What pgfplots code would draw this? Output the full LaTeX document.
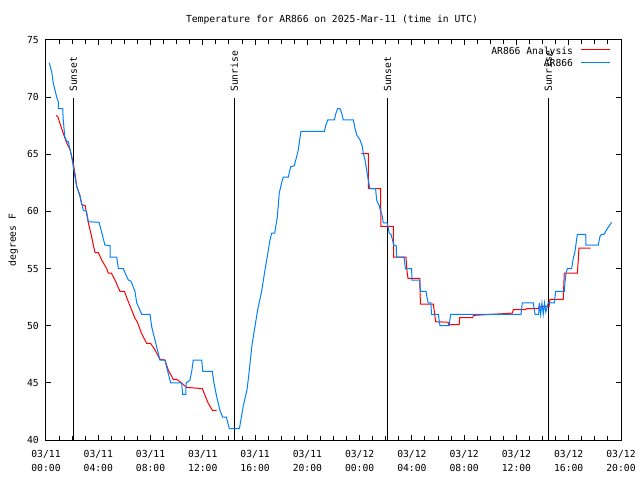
\documentclass[border=0pt]{standalone}
\usepackage{fontspec}
\setmainfont{DejaVu Sans Mono}
\usepackage{pgfplots}
\pgfplotsset{compat=1.18}
\definecolor{anred}{RGB}{255,0,0}
\definecolor{obsblue}{RGB}{0,128,255}
\newcommand\fsz{\fontsize{9.7}{14.5}\selectfont}
\begin{document}
\begin{tikzpicture}
\path[use as bounding box] (-46pt,-40pt) rectangle (594pt,440pt);
\begin{axis}[
  scale only axis, width=575pt, height=400pt,
  xmin=0, xmax=44, ymin=40, ymax=75,
  xtick={0,4,...,44},
  xticklabels={{03/11\\00:00},{03/11\\04:00},{03/11\\08:00},{03/11\\12:00},
    {03/11\\16:00},{03/11\\20:00},{03/12\\00:00},{03/12\\04:00},
    {03/12\\08:00},{03/12\\12:00},{03/12\\16:00},{03/12\\20:00}},
  minor xtick={0,1,...,44},
  ytick={40,45,...,75},
  major tick length=5pt, minor tick length=4pt,
  tick style={black, line width=1pt},
  axis line style={line width=1pt},
  every tick label/.append style={font=\fsz},
  /pgf/number format/assume math mode=true,
  xticklabel style={align=center, anchor=north, inner sep=0pt},
  xticklabel shift=10pt,
  yticklabel style={anchor=east, inner sep=0pt},
  yticklabel shift=7pt,
  unbounded coords=jump,
]
% sunset / sunrise markers
\addplot[black, line width=1pt] coordinates {(2.09,40) (2.09,69.9)};
\addplot[black, line width=1pt] coordinates {(14.41,40) (14.41,69.9)};
\addplot[black, line width=1pt] coordinates {(26.14,40) (26.14,69.9)};
\addplot[black, line width=1pt] coordinates {(38.43,40) (38.43,69.9)};
\node[rotate=90, anchor=west, font=\fsz, inner sep=0pt] at (axis cs:2.09,70.45) {Sunset};
\node[rotate=90, anchor=west, font=\fsz, inner sep=0pt] at (axis cs:14.41,70.45) {Sunrise};
\node[rotate=90, anchor=west, font=\fsz, inner sep=0pt] at (axis cs:26.14,70.45) {Sunset};
\node[rotate=90, anchor=west, font=\fsz, inner sep=0pt] at (axis cs:38.43,70.45) {Sunrise};

% AR866 Analysis
\addplot[anred, line width=1pt] coordinates {
(0.77,68.4) (0.9,68.3) (1.07,67.7) (1.33,66.8) (1.58,66.0) (1.84,65.4)
(2.09,64.2) (2.22,63.3) (2.35,62.2) (2.6,61.4) (2.73,60.6) (3.0,60.5)
(3.11,59.8) (3.24,59.0) (3.37,58.4) (3.49,57.8) (3.62,57.06) (3.75,56.4)
(4.0,56.4) (4.26,55.75) (4.64,55.0) (4.77,54.6) (5.0,54.6) (5.28,54.0)
(5.66,53.0) (6.0,53.0) (6.3,52.1) (6.81,50.65) (7.0,50.3) (7.32,49.3)
(7.7,48.46) (8.0,48.46) (8.34,47.9) (8.72,47.06) (9.1,47.0) (9.36,46.1)
(9.74,45.3) (10.0,45.3) (10.25,45.1) (10.77,44.6) (11.96,44.5) (12.17,43.9)
(12.42,43.2) (12.73,42.6) (13.06,42.6)
(18,nan)
(24.13,65.05) (24.66,65.05) (24.66,62.0) (25.6,62.0) (25.63,58.7) (26.58,58.7)
(26.6,56.0) (27.55,56.0) (27.6,55.0) (27.7,54.15) (28.6,54.15) (28.65,51.9)
(29.64,51.9) (29.7,51.4) (29.82,50.35) (30.78,50.3) (30.8,50.1) (31.62,50.1)
(31.65,50.7) (32.65,50.7) (32.7,50.9) (35.68,51.1) (35.76,51.4) (36.7,51.4)
(36.75,51.5) (37.67,51.5) (37.72,51.67) (38.5,51.7) (38.56,52.3) (39.58,52.3)
(39.66,54.6) (40.66,54.6) (40.73,55.75) (40.78,56.8) (41.68,56.8)
};

% AR866 observations
\addplot[obsblue, line width=1pt] coordinates {
(0.25,73.0) (0.44,72.2) (0.56,71.2) (0.69,70.6) (0.82,70.0) (0.94,69.6)
(0.94,69.0) (1.28,69.0) (1.32,68.0) (1.40,67.0) (1.45,66.5) (1.6,66.1)
(1.71,66.1) (1.96,64.8) (2.09,63.9) (2.22,63.0) (2.35,62.2) (2.6,61.3)
(2.86,60.1) (3.1,60.0) (3.24,59.1) (4.06,59.05) (4.21,58.4) (4.39,57.6)
(4.51,57.06) (4.9,57.0) (4.9,56.0) (5.41,56.0) (5.54,55.0) (5.92,55.0)
(6.1,54.5) (6.3,54.0) (6.5,53.9) (6.81,53.0) (6.94,52.0) (7.1,51.6)
(7.32,51.0) (7.96,51.0) (8.09,49.9) (8.34,48.75) (8.59,47.6) (8.72,47.0)
(9.1,47.0) (9.36,45.8) (9.54,45.0) (10.38,45.0) (10.46,44.0) (10.7,44.0)
(10.72,45.0) (11.0,45.2) (11.15,46.0) (11.27,47.0) (11.91,47.0) (12.0,46.0)
(12.73,46.0) (12.85,45.0) (13.06,43.8) (13.31,42.6) (13.52,42.0) (13.8,42.0)
(14.03,41.0) (14.8,41.0) (15.1,43.0) (15.38,44.4) (15.5,45.5) (15.76,48.3)
(16.0,50.0) (16.2,51.4) (16.5,53.0) (16.76,54.9) (17.0,56.5) (17.14,57.5)
(17.27,58.1) (17.5,58.1) (17.7,59.5) (17.85,61.6) (18.03,62.5) (18.16,63.0)
(18.54,63.0) (18.72,63.9) (19.0,64.0) (19.18,64.8) (19.31,65.4) (19.44,66.5)
(19.51,67.0) (21.3,67.0) (21.43,67.6) (21.56,68.0) (22.06,68.0) (22.19,68.6)
(22.32,69.0) (22.5,69.0) (22.63,68.6) (22.75,68.0) (23.52,68.0) (23.64,67.3)
(23.77,66.7) (24.03,66.25) (24.2,65.7) (24.28,65.1) (24.41,64.5) (24.54,63.6)
(24.66,62.75) (24.79,62.0) (25.22,62.0) (25.3,61.0) (25.5,60.5) (25.6,60.0)
(25.69,59.8) (25.81,59.0) (26.1,59.0) (26.2,58.5) (26.27,58.1) (26.4,58.0)
(26.52,57.5) (26.6,57.06) (26.8,57.0) (26.83,56.0) (27.4,56.0) (27.45,55.5)
(27.5,55.0) (27.98,55.0) (28.0,54.0) (28.6,54.0) (28.65,53.0) (29.08,53.0)
(29.15,52.5) (29.25,52.0) (29.45,52.0) (29.5,51.0) (30.02,51.0) (30.15,50.0)
(30.86,50.0) (30.9,50.5) (30.97,51.0) (36.35,51.0) (36.45,52.0) (37.29,52.0)
(37.42,51.0) (37.7,51.0) (37.75,52.0) (37.85,51.0) (37.95,52.0) (38.05,51.0)
(38.15,52.0) (38.25,51.2) (38.43,52.0) (38.9,52.0) (39.0,53.0) (39.66,53.0)
(39.72,53.85) (39.79,54.6) (39.9,55.0) (40.22,55.0) (40.35,55.9) (40.48,56.5)
(40.6,57.5) (40.66,58.0) (41.3,58.0) (41.32,57.06) (42.26,57.06) (42.39,57.8)
(42.5,58.0) (42.7,58.0) (42.9,58.4) (43.28,59.05)
};

% key, drawn by hand like gnuplot's
\node[anchor=base east, font=\fsz, inner sep=0pt] at (rel axis cs:0.917,0.965) {AR866 Analysis};
\node[anchor=base east, font=\fsz, inner sep=0pt] at (rel axis cs:0.917,0.93325) {AR866};
\draw[anred, line width=1pt] (rel axis cs:0.9304,0.97675) -- (rel axis cs:0.9809,0.97675);
\draw[obsblue, line width=1pt] (rel axis cs:0.9304,0.94325) -- (rel axis cs:0.9809,0.94325);
\end{axis}
\node[anchor=base, font=\fsz] at (286pt,417pt) {Temperature for AR866 on 2025-Mar-11 (time in UTC)};
\node[anchor=base, rotate=90, font=\fsz] at (-30pt,200pt) {degrees F};
\end{tikzpicture}
\end{document}
